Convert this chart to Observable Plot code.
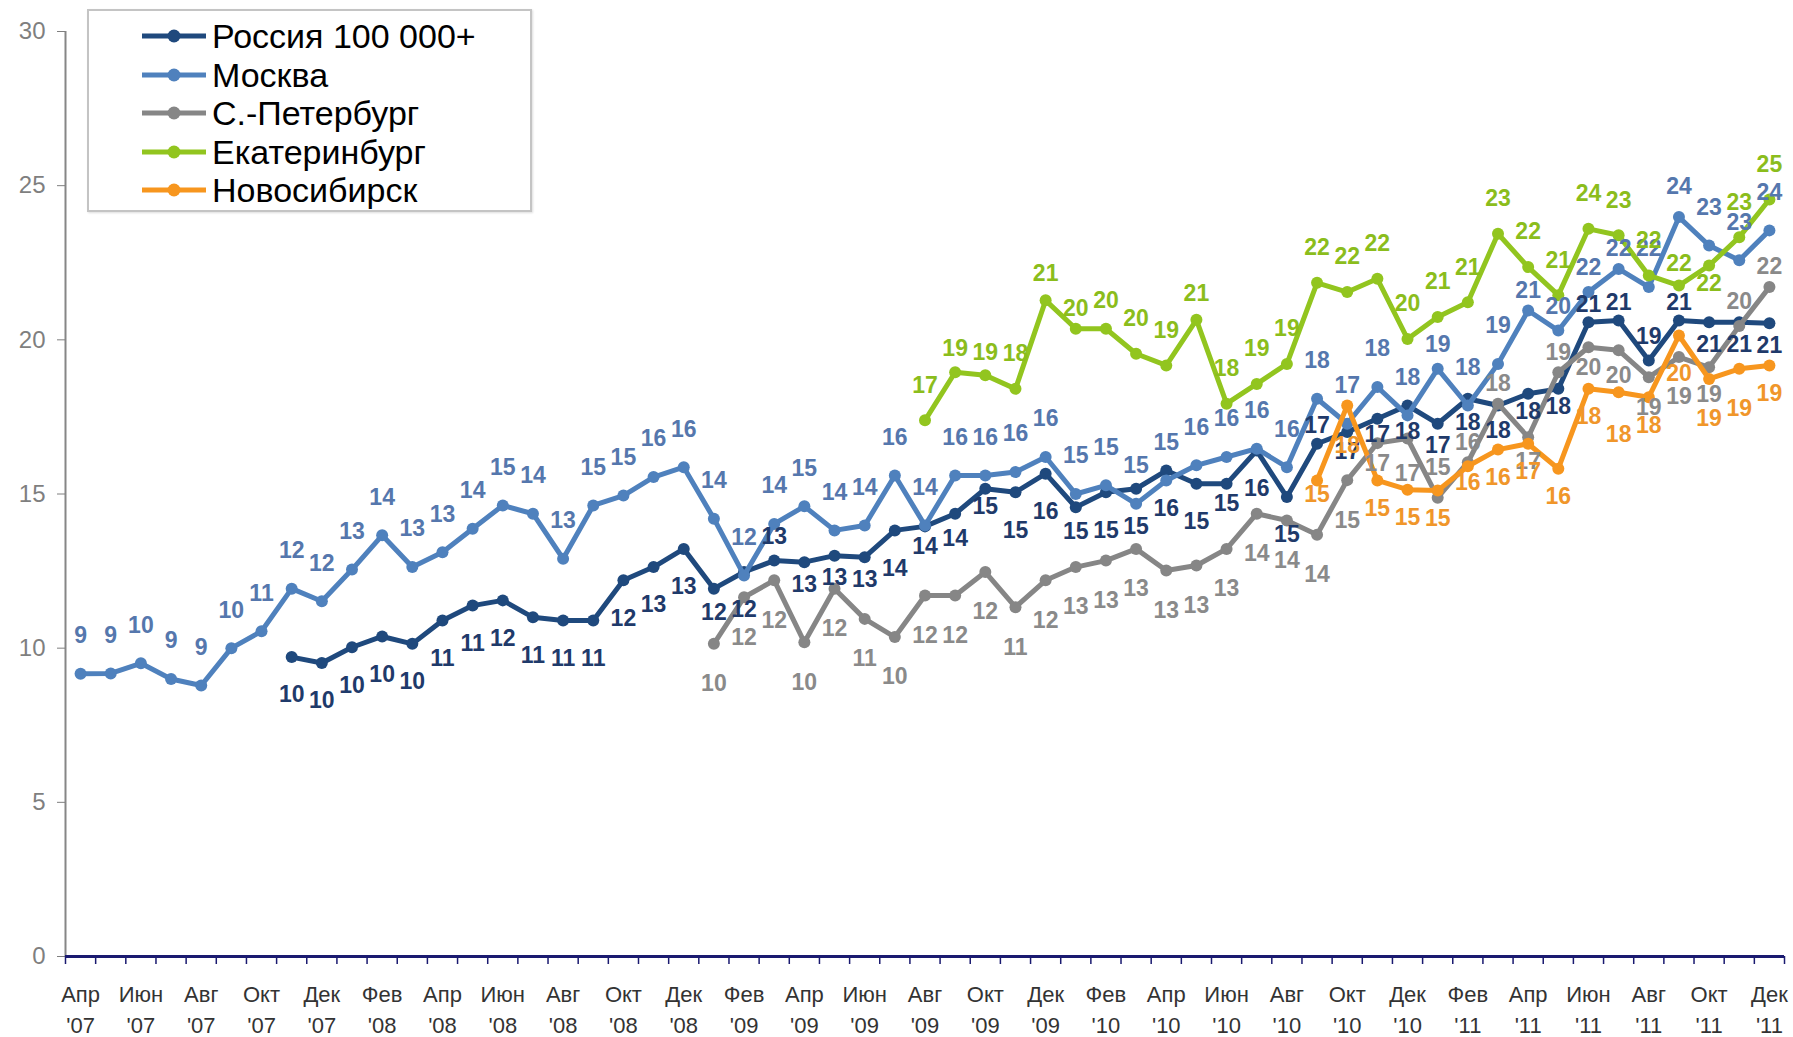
<!DOCTYPE html>
<html>
<head>
<meta charset="utf-8">
<script src="https://cdn.jsdelivr.net/npm/d3@7"></script>
<script src="https://cdn.jsdelivr.net/npm/@observablehq/plot@0.6"></script>
<style>
  html, body { margin: 0; padding: 0; background: #fff; }
  #wrap { position: relative; width: 1793px; height: 1037px; font-family: "Liberation Sans", Arial, sans-serif; }
  #legend { position: absolute; left: 87px; top: 9px; width: 441px; height: 199px; border: 2px solid #c4c4c4; background: #fff; box-shadow: 1px 1px 2px #ddd; }
  .lrow { position: absolute; left: 0; height: 38px; display: flex; align-items: center; }
  .lrow svg { margin-left: 53px; }
  .lrow span { margin-left: 6px; font-size: 34px; color: #000; line-height: 38px; }
</style>
</head>
<body>
<div id="wrap">
  <div id="chart"></div>
  <div id="legend"></div>
</div>
<script>
// ---------- data ----------
const monthNames = ["Апр","Май","Июн","Июл","Авг","Сен","Окт","Ноя","Дек","Янв","Фев","Мар"];
const startYear = 7;           // April 2007
const nMonths = 57;            // Apr '07 .. Dec '11
const seriesNames = ["Россия 100 000+", "Москва", "С.-Петербург", "Екатеринбург", "Новосибирск"];

const russia = [null,null,null,null,null,null,null,
  9.71,9.52,10.03,10.38,10.14,10.9,11.38,11.55,11.0,10.9,10.9,12.2,12.63,13.22,
  11.93,12.47,12.84,12.79,13.0,12.95,13.82,13.95,14.36,15.17,15.06,15.66,14.57,15.06,
  15.17,15.76,15.33,15.33,16.41,14.9,16.63,17.01,17.44,17.87,17.28,18.09,17.87,18.25,
  18.41,20.57,20.63,19.33,20.63,20.57,20.57,20.54];

const moscow = [9.17,9.18,9.51,9.0,8.79,10.0,10.55,11.93,11.52,12.55,13.66,12.63,13.11,
  13.87,14.63,14.36,12.9,14.63,14.95,15.55,15.87,14.2,12.36,14.03,14.6,13.82,13.98,
  15.6,13.98,15.6,15.6,15.71,16.2,15.0,15.28,14.68,15.44,15.93,16.2,16.47,15.87,
  18.09,17.28,18.47,17.55,19.06,17.87,19.22,20.95,20.3,21.55,22.3,21.71,23.98,23.06,
  22.58,23.55];

const spb = [null,null,null,null,null,null,null,null,null,null,null,null,null,null,
  null,null,null,null,null,null,null,
  10.14,11.65,12.2,10.19,11.93,10.95,10.36,11.71,11.71,12.47,11.33,12.2,12.63,12.84,
  13.22,12.52,12.68,13.22,14.36,14.14,13.68,15.45,16.65,16.8,14.88,16.03,17.93,16.84,
  18.95,19.76,19.66,18.79,19.44,19.11,20.45,21.71];

const ekb = [null,null,null,null,null,null,null,null,null,null,null,null,null,null,
  null,null,null,null,null,null,null,null,null,null,null,null,null,null,
  17.39,18.95,18.85,18.41,21.28,20.36,20.36,19.55,19.17,20.65,17.93,18.57,19.22,
  21.85,21.55,21.98,20.03,20.74,21.22,23.44,22.36,21.45,23.6,23.39,22.09,21.76,
  22.41,23.33,24.55];

const nsk = [null,null,null,null,null,null,null,null,null,null,null,null,null,null,
  null,null,null,null,null,null,null,null,null,null,null,null,null,null,
  null,null,null,null,null,null,null,null,null,null,null,null,null,
  15.44,17.87,15.44,15.14,15.11,15.9,16.44,16.63,15.82,18.41,18.3,18.14,20.14,
  18.73,19.06,19.17];

const yTicks = [0, 5, 10, 15, 20, 25, 30];

// ---------- styles (kept separate from data) ----------
const lineColors  = ["#1f497d", "#4f81bd", "#868686", "#92c51f", "#f7961e"];
const labelColors = ["#1f3a6a", "#5577ad", "#8a8a8a", "#8bbd1c", "#f0962a"];
const labelDy     = [38, -38, 40, -35, 28];
// label placement tweaks (pixel offsets by month index), as in the original layout
const labelDyOverride = [
  {21:24, 23:-24, 24:22, 25:22, 26:22, 28:20, 29:25, 30:18, 33:24, 38:20, 41:-18, 42:20, 43:16,
   44:26, 45:22, 46:24, 47:25, 48:18, 49:18, 50:-18, 51:-18, 52:-24, 53:-18, 54:22, 55:22, 56:22},
  {45:-24, 48:-20, 49:-24, 50:-24, 51:-20, 53:-30},
  {43:20, 44:35, 45:-30, 46:-20, 47:-20, 48:24, 49:-20, 50:20, 51:25, 52:30, 54:27, 55:-24, 56:-20},
  {29:-24, 30:-23, 32:-27, 33:-20, 34:-28, 37:-26, 53:-22, 54:18},
  {41:14, 42:40, 46:16, 51:42, 53:38, 54:40, 55:40}
];

// ---------- build ----------
const allValues = [russia, moscow, spb, ekb, nsk];
const monthLabel = i => monthNames[i % 12];
const yearLabel = i => "'" + String(startYear + Math.floor((i + 3) / 12)).padStart(2, "0");

const tables = allValues.map((vals, s) =>
  vals.map((v, i) => ({i, v, name: seriesNames[s]})).filter(d => d.v != null));

const boundaries = d3.range(nMonths + 1).map(k => k - 0.5);
const labelTicks = d3.range(0, nMonths, 2);

const marks = [
  Plot.ruleX([-0.5], {y1: 0, y2: 30, stroke: "#868686", strokeWidth: 2}),
  Plot.axisY({ticks: yTicks, tickSize: 8, tickPadding: 12, fontSize: 24, color: "#7f7f7f", label: null}),
  Plot.axisX({ticks: boundaries, tickSize: 8, tickFormat: () => "", stroke: "#1a1a70", strokeWidth: 1.5, label: null}),
  Plot.axisX({ticks: labelTicks, tickSize: 0, tickPadding: 30, tickFormat: monthLabel, fontSize: 22, fill: "#333", label: null}),
  Plot.axisX({ticks: labelTicks, tickSize: 0, tickPadding: 61, tickFormat: yearLabel, fontSize: 22, fill: "#333", label: null}),
  Plot.ruleY([0], {x1: -0.5, x2: nMonths - 0.5, stroke: "#1a1a70", strokeWidth: 3})
];

tables.forEach((t, s) => {
  marks.push(Plot.line(t, {x: "i", y: "v", stroke: lineColors[s], strokeWidth: 5, curve: "linear"}));
  marks.push(Plot.dot(t, {x: "i", y: "v", r: 6, fill: lineColors[s], stroke: "none"}));
});
tables.forEach((t, s) => {
  const ov = labelDyOverride[s];
  // group points by their label offset so each group is one text mark
  const groups = d3.group(t, d => (ov[d.i] != null ? ov[d.i] : labelDy[s]));
  for (const [dy, pts] of groups) {
    marks.push(Plot.text(pts, {x: "i", y: "v", text: d => String(Math.round(d.v)), dy,
      fill: labelColors[s], fontWeight: "bold", fontSize: 23, textAnchor: "middle"}));
  }
});

const chart = Plot.plot({
  width: 1793,
  height: 1037,
  marginLeft: 65,
  marginRight: 9,
  marginTop: 31,
  marginBottom: 81,
  style: {fontFamily: "'Liberation Sans', Arial, sans-serif", background: "#fff", overflow: "visible"},
  x: {type: "linear", domain: [-0.5, nMonths - 0.5], axis: null},
  y: {type: "linear", domain: [0, 30], axis: null},
  marks
});
document.getElementById("chart").appendChild(chart);

// ---------- legend ----------
const legend = document.getElementById("legend");
seriesNames.forEach((name, s) => {
  const row = document.createElement("div");
  row.className = "lrow";
  row.style.top = (6 + s * 38.5) + "px";
  row.innerHTML = `<svg width="64" height="14"><line x1="0" y1="7" x2="64" y2="7" stroke="${lineColors[s]}" stroke-width="5"/><circle cx="32" cy="7" r="6.5" fill="${lineColors[s]}"/></svg><span>${name}</span>`;
  legend.appendChild(row);
});
</script>
</body>
</html>
